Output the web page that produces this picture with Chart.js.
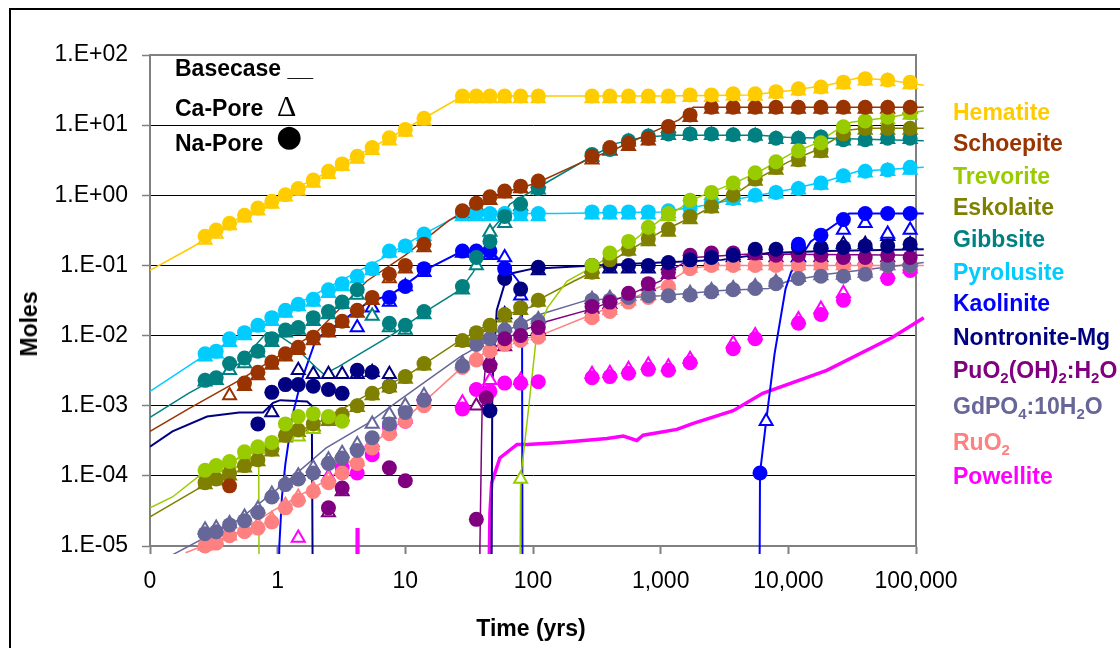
<!DOCTYPE html>
<html>
<head>
<meta charset="utf-8">
<script src="https://cdn.jsdelivr.net/npm/chart.js@4.4.1/dist/chart.umd.min.js"></script>
<style>
  body { margin: 0; background: #fff; }
  #wrap { position: relative; width: 1120px; height: 648px; overflow: hidden; background: #fff;
          font-family: "Liberation Sans", Arial, sans-serif; }
  #frame { position: absolute; left: 9px; top: 8px; width: 1200px; height: 800px; border: 2px solid #000; }
  canvas { position: absolute; left: 0; top: 0; }
  .lbl { position: absolute; font-weight: bold; font-size: 23px; line-height: 28px; white-space: nowrap; color: #000; }
  .lbl sub { font-size: 15px; line-height: 0; vertical-align: -5px; }
  .ctr { transform: translate(-50%, -50%); }
</style>
</head>
<body>
<div id="wrap">
  <div id="frame"></div>
  <canvas id="chart" width="1120" height="648"></canvas>
  <div class="lbl" style="left:175px;top:54px">Basecase __</div>
  <div class="lbl" style="left:175px;top:94px">Ca-Pore</div>
  <div class="lbl" style="left:277px;top:92px;font-family:'Liberation Serif',serif;font-weight:normal;font-size:30px">&Delta;</div>
  <div class="lbl" style="left:175px;top:129px">Na-Pore</div>
  <div class="lbl" style="left:276px;top:122px;font-family:'DejaVu Sans',sans-serif;font-weight:normal;font-size:30px">&#9679;</div>
  <div class="lbl ctr" style="left:29px;top:324px;transform:translate(-50%,-50%) rotate(-90deg)">Moles</div>
  <div class="lbl ctr" style="left:531px;top:628px">Time (yrs)</div>
  <div id="legend"></div>
</div>
<script>
const _ = null;

// shared sample times of the Ca-Pore / Na-Pore markers (yrs)
const markerTimes = [0.27, 0.33, 0.42, 0.55, 0.7, 0.9, 1.15, 1.45, 1.9, 2.5,
  3.2, 4.2, 5.5, 7.5, 10, 14, 28, 36, 46, 60,
  80, 110, 290, 400, 560, 800, 1150, 1700, 2500, 3700,
  5500, 8000, 12000, 18000, 27000, 40000, 60000, 90000];

const xTickLabels = ['0', '1', '10', '100', '1,000', '10,000', '100,000'];
const yTickLabels = ['1.E-05', '1.E-04', '1.E-03', '1.E-02', '1.E-01', '1.E+00', '1.E+01', '1.E+02'];

const minerals = ['Hematite', 'Schoepite', 'Trevorite', 'Eskolaite', 'Gibbsite', 'Pyrolusite',
  'Kaolinite', 'Nontronite-Mg', 'PuO2(OH)2:H2O', 'GdPO4:10H2O', 'RuO2', 'Powellite'];

// basecase lines: [time, moles], null = break in the line
const hematiteBase = [[0.1,0.085],[0.2,0.17],[0.3,0.26],[0.5,0.48],[1,0.95],[2,1.75],[4,3.5],[8,7],[15,13.5],[28,26],[100,26],[1000,26],[5000,27],[10000,31],[20000,37],[35000,47],[60000,44],[115000,37]];
const schoepiteBase = [[0.1,4.3e-4],[0.2,9e-4],[0.5,2.3e-3],[1,5e-3],[2,1.1e-2],[5,6e-2],[10,0.14],[22,0.44],[36,0.75],[55,1.05],[107,1.5],[265,3.2],[470,4.8],[1000,9],[1400,12],[1800,18],[115000,18]];
const trevoriteBase = [[0.1,3.5e-5],[0.15,5e-5],[0.26,1.1e-4],[0.5,1.8e-4],[0.71,2.3e-4],[0.72,1e-7],null,[78,1e-7],[80,9e-5],[90,6e-4],[107,1.07e-2],[130,2.5e-2],[185,0.06],[290,0.094],[560,0.2],[1000,0.45],[2000,0.95],[3800,1.5],[6000,2.2],[10700,4],[16500,5.5],[25000,9],[31000,11],[63000,13],[115000,16]];
const eskolaiteBase = [[0.1,2.6e-5],[0.26,7.2e-5],[0.5,1.4e-4],[1.17,3.7e-4],[2,5.5e-4],[5.6,1.6e-3],[10,2.6e-3],[28,9e-3],[62,2e-2],[100,2.6e-2],[113,3.3e-2],[210,6e-2],[290,8e-2],[1000,0.3],[2000,0.55],[4000,1.1],[6000,1.8],[10000,3],[17000,4.5],[30000,8.5],[40000,9],[115000,9]];
const gibbsiteBase = [[0.1,6.8e-4],[0.2,1.5e-3],[0.28,2.1e-3],[0.5,4e-3],[0.82,1.1e-2],[0.95,1.1e-2],[1.3,7.5e-3],[2,3.5e-3],[2.3,2.8e-3],[3,3.6e-3],[4.4,5.5e-3],[8,1.05e-2],[15,2.3e-2],[27,4.5e-2],[34,8e-2],[38,0.12],[46,0.3],[55,0.44],[66,0.75],[107,1.26],[290,3.6],[450,5.5],[730,6.7],[1200,7.2],[6000,7.2],[9600,6.7],[20000,6.5],[115000,6.0]];
const pyrolusiteBase = [[0.1,1.6e-3],[0.25,4.8e-3],[1,2e-2],[6.3,0.12],[10,0.2],[15,0.3],[28,0.55],[150,0.55],[1000,0.58],[2000,0.7],[5000,0.95],[10000,1.2],[20000,1.6],[35000,2.2],[115000,2.5]];
const kaoliniteBase = [[1.0,1e-7],[1.03,1e-5],[1.08,5e-5],[1.15,1.5e-4],[1.3,7e-4],[1.5,2e-3],[2,9e-3],[2.7,1.3e-2],[5,2.9e-2],[8,4e-2],[15,9e-2],[28,0.16],[47,0.16],[60,0.1],[66,0.085],[75,0.063],[82,0.05],[83,1e-7],null,[5900,1e-7],[6000,1.1e-4],[6700,6e-4],[7800,5.5e-3],[9500,4.6e-2],[10500,8e-2],[15000,0.22],[24000,0.4],[30000,0.55],[115000,0.55]];
const nontroniteBase = [[0.1,2.6e-4],[0.15,4.3e-4],[0.28,7e-4],[0.5,8e-4],[0.77,8e-4],[0.92,1.1e-3],[1.05,1.2e-3],[1.7,1.15e-3],[1.85,1e-3],[1.9,1e-7],null,[47,1e-7],[48,2e-3],[52,2.3e-2],[62,6.7e-2],[70,7.8e-2],[100,9e-2],[300,0.1],[1000,0.11],[3000,0.12],[7000,0.15],[20000,0.16],[115000,0.17]];
const puBase = [[38,1e-7],[38.4,1e-5],[39.5,3e-4],[40,1e-3],[42,3e-3],[45,5.7e-3],[60,9e-3],[95,1.3e-2],[130,1.6e-2],[290,2.4e-2],[600,4e-2],[1000,6e-2],[1200,8.5e-2],[1800,0.13],[5000,0.145],[115000,0.14]];
const gdBase = [[0.14,7e-6],[0.5,2.4e-5],[1.2,8.5e-5],[2.4,2.5e-4],[5,5.5e-4],[9,1.2e-3],[27,5e-3],[55,1.05e-2],[113,2e-2],[265,3.2e-2],[1000,3.7e-2],[3000,4.4e-2],[7000,4.7e-2],[10000,6e-2],[20000,7.5e-2],[60000,9.5e-2],[115000,0.11]];
const ruBase = [[0.19,8e-6],[0.5,1.6e-5],[1,3.5e-5],[2.5,9e-5],[5,2.5e-4],[10,6.5e-4],[30,4e-3],[60,8e-3],[113,1e-2],[290,2e-2],[1000,5e-2],[1700,9e-2],[2500,0.1],[115000,0.1]];
const powelliteBase = [[4.15,1e-7],[4.2,1.8e-5],[4.25,1e-7],null,[44,1e-7],[46,3e-5],[47.5,8e-5],[55,1.8e-4],[75,2.8e-4],[90,2.8e-4],[165,3e-4],[380,3.4e-4],[510,3.7e-4],[650,3.2e-4],[730,3.8e-4],[1340,4.6e-4],[1800,5.6e-4],[3700,8.5e-4],[6300,1.5e-3],[20000,3.2e-3],[65000,9.4e-3],[115000,1.8e-2]];

// Na-Pore (filled circles) and Ca-Pore (open triangles), aligned with markerTimes
const hematiteNa = [0.26,0.32,0.4,0.52,0.66,0.82,1.02,1.25,1.65,2.2, 2.8,3.6,4.8,6.6,8.7,12.5,26,26,26,26, 26,26,26,26,26,26,26,27,27,28, 28,30,33,35,41,46,44,41];
const hematiteCa = [0.23,0.28,0.37,0.48,0.6,0.75,0.95,1.15,1.5,2.0, 2.6,3.3,4.4,6.0,8.0,11.5,24,24,24,24, 24,24,24,24,24,24,24,25,25,26, 26,28,31,33,38,43,42,38];
const schoepiteNa = [_,_,7.2e-5,2.1e-3,3e-3,4.2e-3,5.5e-3,6.8e-3,9.5e-3,1.2e-2, 1.6e-2,2.3e-2,3.5e-2,7.5e-2,0.1,0.2,0.6,0.77,0.95,1.15, 1.35,1.6,3.6,4.8,5.5,6.5,9.6,14,18,18, 18,18,18,18,18,18,18,18];
const schoepiteCa = [_,_,1.4e-3,1.9e-3,2.7e-3,3.8e-3,5e-3,6.2e-3,8.5e-3,1.1e-2, 1.5e-2,2.1e-2,3.2e-2,6.5e-2,9e-2,0.18,0.55,0.7,0.85,1.05, 1.25,1.5,3.2,4.3,5,6,9,13,17,17, 17,17,17,17,17,17,17,17];
const trevoriteNa = [1.2e-4,1.4e-4,1.6e-4,2.2e-4,2.6e-4,3e-4,5.5e-4,7e-4,7.7e-4,7e-4, 6e-4,_,_,_,_,_,_,_,_,_, _,_,0.1,0.15,0.22,0.35,0.55,0.85,1.1,1.5, 2.1,3,4.3,5.6,9.5,11.5,13,15];
const trevoriteCa = [1.1e-4,1.3e-4,1.5e-4,2e-4,2.4e-4,2.8e-4,_,3.6e-4,4.6e-4,_, _,_,_,_,_,_,_,_,_,_, 9e-5,_,0.09,0.13,0.2,0.32,0.5,0.8,1.0,1.4, 1.9,2.7,4,5.2,8.5,11,12,14];
const eskolaiteNa = [8e-5,9e-5,1.1e-4,1.4e-4,1.7e-4,2.4e-4,3.8e-4,4.5e-4,5.5e-4,6.5e-4, 7.5e-4,1e-3,1.5e-3,1.9e-3,2.6e-3,4e-3,8.5e-3,1.1e-2,1.4e-2,2e-2, 2.5e-2,3.2e-2,8e-2,0.12,0.17,0.24,0.33,0.5,0.7,1.0, 1.7,2.5,3.2,4.3,7.5,9,9,9];
const eskolaiteCa = [7.5e-5,8.5e-5,1e-4,1.3e-4,1.6e-4,2.2e-4,3.5e-4,4.2e-4,5e-4,6e-4, 7e-4,9.5e-4,1.4e-3,1.8e-3,2.4e-3,3.7e-3,8e-3,1e-2,1.3e-2,1.8e-2, 2.3e-2,3e-2,7.5e-2,0.11,0.16,0.22,0.3,0.45,0.65,0.95, 1.6,2.3,3,4,7,8.5,8.5,8.5];
const gibbsiteNa = [2.3e-3,2.5e-3,4e-3,4.8e-3,6e-3,9e-3,1.2e-2,1.3e-2,1.8e-2,2.2e-2, 3e-2,4.5e-2,_,1.5e-2,1.4e-2,2.2e-2,5e-2,0.13,0.22,0.5, 0.75,1.25,3.8,4.5,6,7,7.5,7.5,7.5,7.3, 7.2,6.5,6.5,6.8,6.2,6.2,6.5,6.5];
const gibbsiteCa = [2.2e-3,2.3e-3,3.2e-3,4e-3,5.7e-3,8e-3,1.1e-2,1.2e-2,1.6e-2,2e-2, 2.8e-2,3.8e-2,1.9e-2,1.3e-2,1.2e-2,2e-2,4.5e-2,0.1,0.3,0.4, 0.7,1.2,3.5,4.3,5.8,6.8,7.2,7.2,7.2,7, 7,6.3,6.3,6.5,6,6,6.3,6.3];
const pyrolusiteNa = [5.5e-3,6e-3,9e-3,1.1e-2,1.4e-2,1.8e-2,2.3e-2,2.8e-2,3.3e-2,4.5e-2, 5.5e-2,7e-2,9e-2,0.16,0.19,0.28,0.55,0.55,0.55,0.55, 0.55,0.55,0.58,0.58,0.58,0.58,0.6,0.65,0.8,0.9, 1.0,1.1,1.25,1.5,1.9,2.2,2.3,2.5];
const pyrolusiteCa = [5e-3,5.5e-3,8e-3,1e-2,1.3e-2,1.6e-2,2.1e-2,2.6e-2,3e-2,4e-2, 5e-2,6.5e-2,8.5e-2,0.15,0.18,0.26,0.5,0.5,0.5,0.5, 0.5,0.5,0.53,0.53,0.53,0.53,0.55,0.6,0.75,0.85, 0.95,1.05,1.2,1.4,1.8,2.1,2.2,2.3];
const kaoliniteNa = [_,_,_,_,_,_,_,_,_,_, _,_,_,0.035,0.05,0.09,0.16,0.16,0.16,0.09, _,_,_,_,_,_,_,_,_,_, _,_,0.2,0.27,0.45,0.55,0.55,0.55];
const kaoliniteCa = [_,_,_,_,_,_,_,_,_,_, _,1.3e-2,2.5e-2,3e-2,5e-2,8e-2,0.15,0.15,0.14,0.13, 0.037,_,_,_,_,_,_,_,_,_, _,_,0.13,0.2,0.32,0.4,0.28,0.32];
const nontroniteNa = [_,_,_,_,5.5e-4,1.55e-3,2e-3,2e-3,1.9e-3,1.7e-3, 1.5e-3,3.2e-3,3e-3,1.9e-3,_,_,_,_,8.5e-4,0.065, 0.046,0.094,0.1,0.1,0.1,0.1,0.11,0.12,0.13,0.14, 0.17,0.17,0.18,0.18,0.18,0.19,0.19,0.2];
const nontroniteCa = [_,_,_,_,_,8e-4,_,3.2e-3,2.8e-3,2.8e-3, 2.8e-3,2.8e-3,3e-3,2.8e-3,_,_,_,_,_,0.02, _,0.085,0.09,0.09,0.09,0.09,0.1,0.11,0.12,0.13, 0.15,0.16,0.17,0.19,0.2,0.2,0.26,0.2];
const puNa = [_,_,_,_,_,_,_,_,_,3.5e-5, 6.7e-5,_,_,1.3e-4,8.5e-5,_,_,2.4e-5,3.7e-3,9e-3, 1e-2,1.3e-2,2.6e-2,3e-2,4e-2,5.5e-2,8e-2,0.14,0.15,0.15, 0.15,0.14,0.14,0.14,0.13,0.13,0.14,0.13];
const puCa = [_,_,_,_,_,_,_,_,_,3e-5, 6e-5,_,_,_,_,_,_,1e-3,4.5e-3,7e-3, 1e-2,1.2e-2,2.4e-2,2.8e-2,3.7e-2,5e-2,7.5e-2,0.13,0.14,0.14, 0.14,0.13,0.13,0.13,0.12,0.12,0.13,0.12];
const gdNa = [1.5e-5,1.6e-5,2e-5,2.3e-5,3e-5,5e-5,7.5e-5,9e-5,1.1e-4,1.5e-4, 1.8e-4,2.3e-4,3.5e-4,5.5e-4,8e-4,1.2e-3,3.7e-3,7.5e-3,9e-3,1.2e-2, 1.4e-2,1.6e-2,3.2e-2,3.2e-2,3.5e-2,3.7e-2,3.7e-2,3.8e-2,4.2e-2,4.5e-2, 4.7e-2,5.5e-2,6.5e-2,7e-2,7e-2,7.5e-2,0.1,0.1];
const gdCa = [1.7e-5,1.8e-5,2.1e-5,2.6e-5,3.4e-5,5.5e-5,8e-5,1e-4,1.3e-4,1.7e-4, 2.1e-4,2.8e-4,5.5e-4,7.5e-4,1e-3,1.4e-3,4e-3,8e-3,1e-2,1.3e-2, 1.5e-2,1.7e-2,3.3e-2,3.4e-2,3.6e-2,3.8e-2,3.8e-2,4e-2,4.4e-2,4.7e-2, 5e-2,5.8e-2,6.8e-2,7.2e-2,7.3e-2,7.8e-2,0.1,0.11];
const ruNa = [1e-5,1.1e-5,1.4e-5,1.6e-5,1.8e-5,2.2e-5,3.5e-5,4.5e-5,6e-5,8e-5, 1.1e-4,1.5e-4,2.5e-4,4e-4,6e-4,1e-3,3.5e-3,4.5e-3,6e-3,7.5e-3, 8.5e-3,9.5e-3,1.8e-2,2.2e-2,3e-2,3.5e-2,5e-2,9e-2,0.1,0.1, 0.1,0.1,0.1,0.1,0.1,0.1,0.1,0.1];
const ruCa = [1e-5,1.2e-5,1.4e-5,1.7e-5,2e-5,2.4e-5,3.8e-5,5e-5,6.5e-5,9e-5, 1.2e-4,1.6e-4,2.7e-4,4.3e-4,6.5e-4,1.1e-3,3.7e-3,4.8e-3,6.3e-3,7.8e-3, 8.8e-3,1e-2,1.9e-2,2.3e-2,3.1e-2,3.7e-2,5.2e-2,9.2e-2,0.1,0.1, 0.1,0.1,0.1,0.1,0.1,0.1,0.1,0.1];
const powelliteNa = [_,_,_,_,_,_,_,_,_,_, 1.3e-4,1.1e-4,2e-4,5e-4,6e-4,1.2e-3,9e-4,1.7e-3,1.6e-3,2.1e-3, 2.1e-3,2.2e-3,2.5e-3,2.6e-3,2.9e-3,3.3e-3,3.2e-3,4.1e-3,_,6.5e-3, 9e-3,_,1.5e-2,2e-2,3.2e-2,_,6.5e-2,8.5e-2];
const powelliteCa = [_,_,_,_,_,_,_,1.3e-5,_,9.7e-5, _,_,3e-4,4.5e-4,_,_,1.1e-3,_,2.3e-3,_, 2.3e-3,_,2.8e-3,2.9e-3,3.3e-3,3.8e-3,3.6e-3,4.6e-3,_,7.7e-3, 1e-2,_,1.7e-2,2.4e-2,4e-2,_,7.5e-2,9e-2];

// single points off the shared time grid: [time, moles]
const kaoliniteNaExtra = [[6000, 1.1e-4]];
const kaoliniteCaExtra = [[6700, 6e-4]];
const puNaExtra = [[43, 1.3e-3]];

const colors = ['#FFCC00','#993300','#99CC00','#808000','#008080','#00CCFF','#0000FF','#000080','#800080','#666699','#FF8080','#FF00FF'];
const lineWidths = [1.5,1.5,1.5,1.5,1.5,1.5,2,2,1.5,1.5,1.5,3.5];
const legendY = [112,143,176,207,239,272,303,337,370,406,442,476];

const baseSets = [hematiteBase, schoepiteBase, trevoriteBase, eskolaiteBase, gibbsiteBase, pyrolusiteBase,
  kaoliniteBase, nontroniteBase, puBase, gdBase, ruBase, powelliteBase];
const naSets = [hematiteNa, schoepiteNa, trevoriteNa, eskolaiteNa, gibbsiteNa, pyrolusiteNa,
  kaoliniteNa, nontroniteNa, puNa, gdNa, ruNa, powelliteNa];
const caSets = [hematiteCa, schoepiteCa, trevoriteCa, eskolaiteCa, gibbsiteCa, pyrolusiteCa,
  kaoliniteCa, nontroniteCa, puCa, gdCa, ruCa, powelliteCa];
const naExtras = [[],[],[],[],[],[],kaoliniteNaExtra,[],puNaExtra,[],[],[]];
const caExtras = [[],[],[],[],[],[],kaoliniteCaExtra,[],[],[],[],[]];

function toPoints(vals, extra) {
  const pts = [];
  vals.forEach((v, i) => { if (v !== null) pts.push({x: markerTimes[i], y: v}); });
  extra.forEach(p => pts.push({x: p[0], y: p[1]}));
  return pts;
}

function segments(pairs) {
  const out = [[]];
  pairs.forEach(p => {
    if (p === null) out.push([]);
    else out[out.length - 1].push({x: p[0], y: p[1]});
  });
  return out;
}

const datasets = [];
minerals.forEach((name, i) => {
  const c = colors[i];
  datasets.push({
    label: name + ' Na-Pore', data: toPoints(naSets[i], naExtras[i]), showLine: false,
    pointStyle: 'circle', pointRadius: 7.5, pointBackgroundColor: c, pointBorderColor: c,
    pointBorderWidth: 0, order: 0, clip: 12
  });
  datasets.push({
    label: name + ' Ca-Pore', data: toPoints(caSets[i], caExtras[i]), showLine: false,
    pointStyle: 'triangle', pointRadius: 7.5, pointBackgroundColor: '#fff', pointBorderColor: c,
    pointBorderWidth: 2, order: 1, clip: 12
  });
  segments(baseSets[i]).forEach(seg => {
    datasets.push({
      label: name + ' Basecase', data: seg, showLine: true, borderColor: c,
      borderWidth: lineWidths[i], pointRadius: 0, order: 2,
      clip: {left: 0, top: 0, right: 9, bottom: 8}
    });
  });
});

// legend at the right
const legend = document.getElementById('legend');
minerals.forEach((name, i) => {
  const d = document.createElement('div');
  d.className = 'lbl';
  d.style.left = '953px';
  d.style.top = (legendY[i] - 14) + 'px';
  d.style.color = colors[i];
  d.innerHTML = name.replace(/([A-Za-z)])(\d+)/g, '$1<sub>$2</sub>');
  legend.appendChild(d);
});

const plotFrame = {
  id: 'plotFrame',
  beforeDatasetsDraw(chart) {
    const {ctx, chartArea: a} = chart;
    ctx.save();
    ctx.strokeStyle = '#808080';
    ctx.lineWidth = 2;
    ctx.beginPath();
    ctx.moveTo(a.left, a.top);
    ctx.lineTo(a.right, a.top);
    ctx.lineTo(a.right, a.bottom);
    ctx.stroke();
    ctx.restore();
  }
};

const tickFont = {family: '"Liberation Sans", Arial, sans-serif', size: 23};

new Chart(document.getElementById('chart'), {
  type: 'scatter',
  data: { datasets },
  options: {
    responsive: false,
    devicePixelRatio: 1,
    animation: false,
    layout: { padding: { left: 0, top: 55, right: 204, bottom: 0 } },
    plugins: { legend: { display: false }, tooltip: { enabled: false } },
    scales: {
      x: {
        type: 'logarithmic', min: 0.1, max: 100000,
        afterBuildTicks: s => { s.ticks = [0.1, 1, 10, 100, 1000, 10000, 100000].map(v => ({value: v})); },
        afterFit: s => { s.height = 102; },
        ticks: { callback: (v, i) => xTickLabels[i], font: tickFont, color: '#000', padding: 14,
                 maxRotation: 0, autoSkip: false },
        grid: { drawOnChartArea: false, tickLength: 8, tickColor: '#808080', tickWidth: 2 },
        border: { color: '#808080', width: 2 }
      },
      y: {
        type: 'logarithmic', min: 1e-5, max: 100,
        afterBuildTicks: s => { s.ticks = [1e-5, 1e-4, 1e-3, 1e-2, 1e-1, 1, 10, 100].map(v => ({value: v})); },
        afterFit: s => { s.width = 150; },
        ticks: { callback: (v, i) => yTickLabels[i], font: tickFont, color: '#000', padding: 14, autoSkip: false },
        grid: { color: '#000', lineWidth: 1, tickLength: 8, tickColor: '#808080', tickWidth: 1.5 },
        border: { color: '#808080', width: 2 }
      }
    }
  },
  plugins: [plotFrame]
});
</script>
</body>
</html>
